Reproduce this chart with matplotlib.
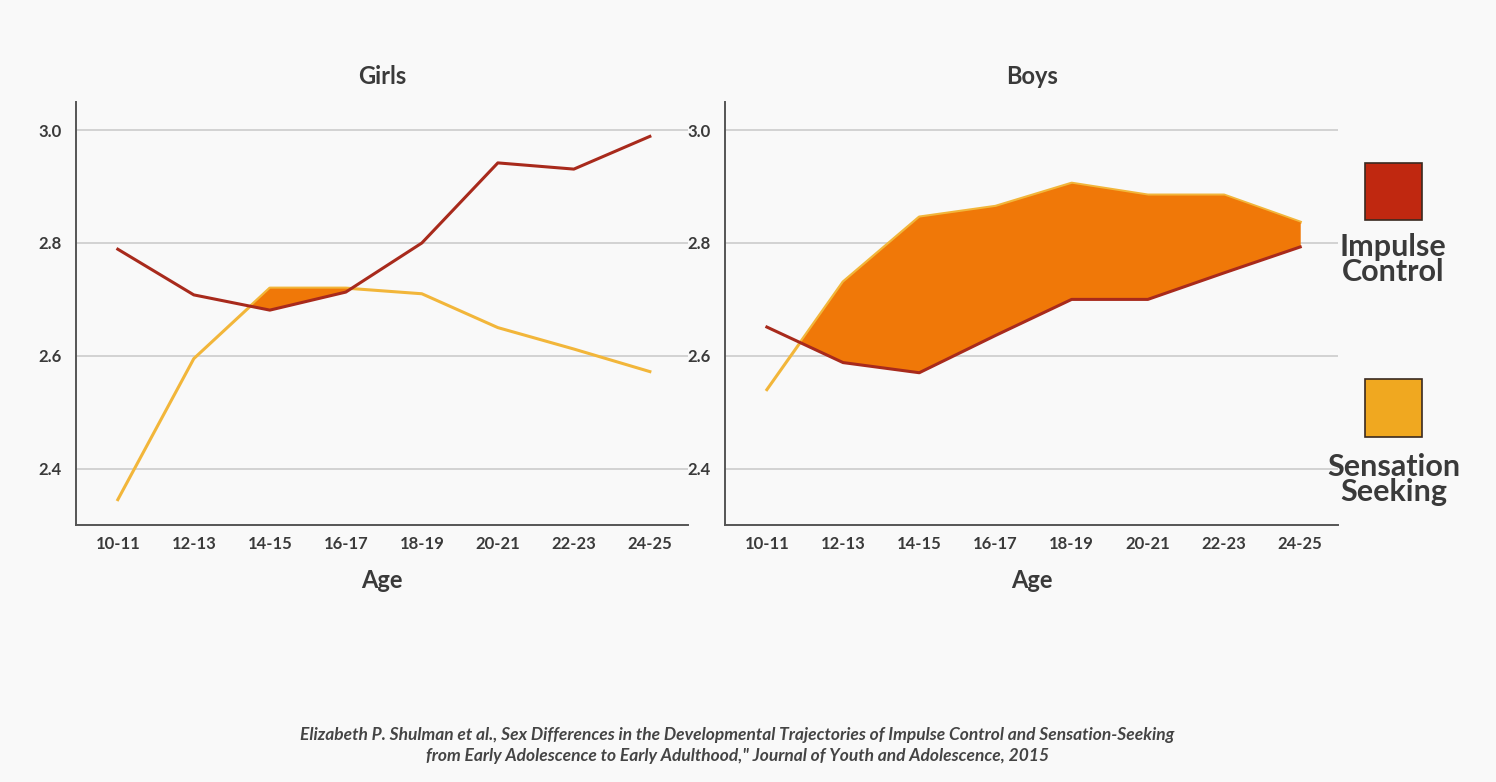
import matplotlib.pyplot as plt
import numpy as np

plt.rcParams['font.family'] = ['Lato', 'DejaVu Sans']

ages = ['10-11', '12-13', '14-15', '16-17', '18-19', '20-21', '22-23', '24-25']

girls_impulse = [2.789, 2.708, 2.681, 2.713, 2.80, 2.942, 2.931, 2.989]
girls_sensation = [2.345, 2.595, 2.72, 2.72, 2.71, 2.65, 2.612, 2.572]

boys_impulse = [2.651, 2.588, 2.570, 2.636, 2.70, 2.70, 2.747, 2.793]
boys_sensation = [2.54, 2.731, 2.846, 2.865, 2.906, 2.885, 2.885, 2.837]

yticks = [2.4, 2.6, 2.8, 3.0]

impulse_col = '#a82a1c'
sensation_col = '#f2b63a'
fill_col = '#f07808'
text_col = '#3a3a3a'
bg = '#f9f9f9'

fig = plt.figure(figsize=(14.96, 7.82), dpi=100, facecolor=bg)

ax1 = fig.add_axes([0.0508, 0.3286, 0.409, 0.541])
ax2 = fig.add_axes([0.4846, 0.3286, 0.41, 0.541])

x = np.arange(len(ages))

for ax, title, imp, sen in [(ax1, 'Girls', girls_impulse, girls_sensation),
                            (ax2, 'Boys', boys_impulse, boys_sensation)]:
    ax.set_facecolor(bg)
    imp = np.array(imp)
    sen = np.array(sen)
    ax.plot(x, sen, color=sensation_col, lw=2.2, zorder=3)
    ax.fill_between(x, imp, sen, where=sen >= imp, interpolate=True,
                    color=fill_col, lw=0, zorder=4)
    ax.plot(x, imp, color=impulse_col, lw=2.2, zorder=5)

    ax.set_xlim(-0.55, 7.5)
    ax.set_ylim(2.30, 3.05)
    ax.set_yticks(yticks)
    ax.set_yticklabels(['%.1f' % v for v in yticks])
    ax.set_xticks(x)
    ax.set_xticklabels(ages)
    ax.tick_params(length=0, labelsize=12, labelcolor=text_col, pad=8)
    for lab in ax.get_xticklabels() + ax.get_yticklabels():
        lab.set_fontweight('bold')
    ax.tick_params(axis='y', pad=10)
    ax.grid(axis='y', color='#d2d2d2', lw=1.4)
    ax.set_axisbelow(True)
    for s in ['top', 'right']:
        ax.spines[s].set_visible(False)
    for s in ['left', 'bottom']:
        ax.spines[s].set_color('#555555')
        ax.spines[s].set_linewidth(1.4)
    ax.set_title(title, fontsize=17, fontweight='bold', color=text_col, pad=13)
    ax.set_xlabel('Age', fontsize=17, fontweight='bold', color=text_col, labelpad=12)

# legend squares on the right
fig.patches.append(plt.Rectangle((0.9125, 0.719), 0.038, 0.073, transform=fig.transFigure,
                                 facecolor='#c02810', edgecolor='#3a2a20', lw=1.2))
fig.patches.append(plt.Rectangle((0.9125, 0.441), 0.038, 0.074, transform=fig.transFigure,
                                 facecolor='#f0a820', edgecolor='#3a2a20', lw=1.2))
fig.text(0.931, 0.668, 'Impulse\nControl', ha='center', va='center', fontsize=22,
         fontweight='bold', color=text_col, linespacing=0.85)
fig.text(0.932, 0.387, 'Sensation\nSeeking', ha='center', va='center', fontsize=22,
         fontweight='bold', color=text_col, linespacing=0.85)

fig.text(0.493, 0.047,
         'Elizabeth P. Shulman et al., Sex Differences in the Developmental Trajectories of Impulse Control and Sensation-Seeking\n'
         'from Early Adolescence to Early Adulthood," Journal of Youth and Adolescence, 2015',
         ha='center', va='center', fontsize=12.5, style='italic', fontweight='bold',
         color='#444444', linespacing=1.4)

fig.savefig('out.png', dpi=100, facecolor=bg)
